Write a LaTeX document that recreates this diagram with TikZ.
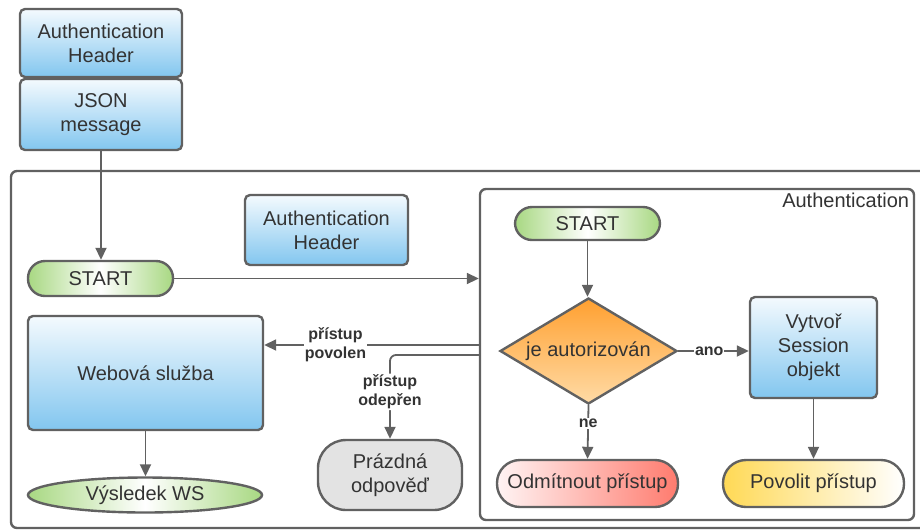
\documentclass[tikz,border=0pt]{standalone}
\usepackage{fontspec}
\setmainfont{Liberation Sans}
\usetikzlibrary{arrows.meta,shapes.geometric}
\definecolor{ln}{HTML}{616161}
\definecolor{tx}{HTML}{333333}
\definecolor{blueB}{HTML}{82C6EF}
\definecolor{blueT}{HTML}{F4FAFE}
\definecolor{grn}{HTML}{A8D882}
\definecolor{orT}{HTML}{FFA030}
\definecolor{orB}{HTML}{FFDBA6}
\definecolor{redR}{HTML}{FF7B6E}
\definecolor{redL}{HTML}{FFF4F4}
\definecolor{yelL}{HTML}{FFD955}
\definecolor{gryF}{HTML}{E3E3E3}
\tikzset{
 base/.style={draw=ln, line width=2.4pt, text=tx, font=\fontsize{20}{24}\selectfont, align=center, inner sep=0pt},
 bluebox/.style={base, rectangle, rounded corners=5pt, top color=blueT, bottom color=blueB},
 pill/.style={base, rectangle, rounded corners=17pt},
 greenpill/.style={pill, left color=grn, right color=grn, middle color=white},
 arr/.style={draw=ln, line width=1.8pt, -{Triangle[length=12pt,width=11pt]}},
 lbl/.style={text=tx, font=\bfseries\fontsize{16}{19}\selectfont, align=center, fill=white, inner sep=1pt},
 frame/.style={draw=ln, line width=2.4pt, rounded corners=6pt, inner sep=0pt},
}
\begin{document}
\begin{tikzpicture}[x=1pt,y=-1pt]
\useasboundingbox (0,0) rectangle (920,531);
\clip (0,0) rectangle (920,531);
% outer frame
\node[frame, minimum width=924pt, minimum height=357pt] (outer) at (473,349.5) {};
% top stack
\node[bluebox, minimum width=162pt, minimum height=68pt] (ah1) at (101,43) {Authentication\\Header};
\node[bluebox, minimum width=162pt, minimum height=71pt] (json) at (101,114.5) {JSON\\message};
% left part
\node[greenpill, minimum width=145pt, minimum height=35pt] (start1) at (100.5,278.5) {START};
\node[bluebox, minimum width=163pt, minimum height=70pt] (ah2) at (326.5,230) {Authentication\\Header};
\node[bluebox, minimum width=235pt, minimum height=114pt] (web) at (145.5,373) {Webová služba};
\node[base, ellipse, minimum width=234pt, minimum height=35pt, left color=grn, right color=grn, middle color=white] (vys) at (145,495) {Výsledek WS};
\node[base, rectangle, rounded corners=28pt, fill=gryF, minimum width=144pt, minimum height=70pt] (prz) at (390,475) {Prázdná\\odpověď};
% authentication container
\node[frame, minimum width=434pt, minimum height=331pt] (authc) at (697,354.5) {};
\node[anchor=north east, text=tx, font=\fontsize{20}{24}\selectfont, inner sep=0pt] (authlbl) at ([xshift=-6pt,yshift=-5pt]authc.north east) {Authentication};
\node[greenpill, minimum width=145pt, minimum height=33pt] (start2) at (587.5,223.5) {START};
\node[base, diamond, aspect=1.67, minimum width=177pt, minimum height=106pt, top color=orT, bottom color=orB] (diam) at (588.5,351) {je autorizován};
\node[bluebox, minimum width=127pt, minimum height=101pt] (vyt) at (813.5,347.5) {Vytvoř\\Session\\objekt};
\node[pill, rounded corners=23pt, minimum width=181pt, minimum height=47pt, left color=redL, right color=redR] (odm) at (587.5,483.5) {Odmítnout přístup};
\node[pill, rounded corners=23pt, minimum width=181pt, minimum height=47pt, left color=yelL, right color=white] (pov) at (813.5,483.5) {Povolit přístup};
% coordinates
\coordinate (pp) at (480,345);
\coordinate (po) at (480,355);
% connectors
\draw[arr] (json.south) -- (json.south |- start1.north);
\draw[arr] (start1.east) -- (authc.west |- start1.east);
\draw[arr] (pp) -- (web.east |- pp) node[lbl, pos=0.67] (lpov) {přístup\\povolen};
\draw[arr, rounded corners=6pt] (po) -| (prz.north) node[lbl, pos=0.72] (lode) {přístup\\odepřen};
\draw[arr] (start2.south) -- (start2.south |- diam.north);
\draw[arr] (diam.east) -- (vyt.west |- diam.east) node[lbl, pos=0.44] (lano) {ano};
\draw[arr] (diam.south) -- (odm.north) node[lbl, pos=0.34] (lne) {ne};
\draw[arr] (vyt.south) -- (vyt.south |- pov.north);
\draw[arr] (web.south) -- (web.south |- vys.north);
\end{tikzpicture}
\end{document}
